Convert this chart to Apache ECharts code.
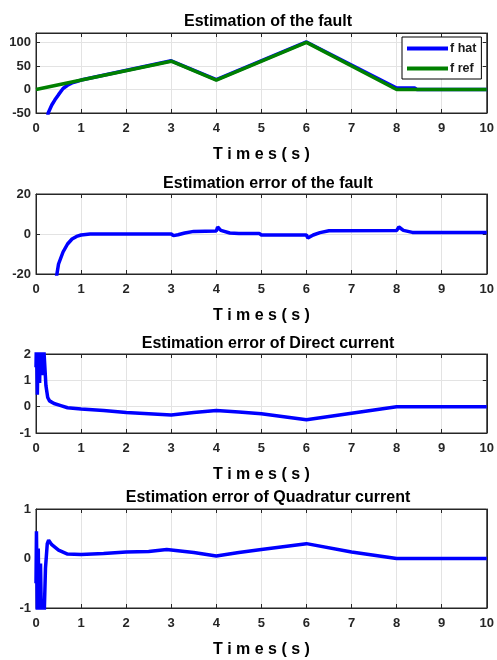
<!DOCTYPE html>
<html>
<head>
<meta charset="utf-8">
<script src="https://cdn.jsdelivr.net/npm/echarts@6/dist/echarts.min.js"></script>
<style>
    html, body { margin: 0; padding: 0; background: #fff; }
    #main { width: 497px; height: 660px; }
</style>
</head>
<body>
<div id="main"></div>
<script>
// time axis ticks (s)
var timeTicks = [0, 1, 2, 3, 4, 5, 6, 7, 8, 9, 10];

// y ticks of each panel
var faultTicks = [-50, 0, 50, 100];
var faultErrTicks = [-20, 0, 20];
var idTicks = [-1, 0, 1, 2];
var iqTicks = [-1, 0, 1];

// [t, value]
var fRef = [[0, 0], [3, 60], [4, 20], [6, 100], [8, 0], [10, 0]];
var fHat = [[0.2, -100], [0.27, -50], [0.35, -33], [0.42, -22], [0.5, -11], [0.6, 2], [0.7, 9],
    [0.8, 14], [0.9, 17], [1, 20], [3, 61], [4, 21], [6, 101], [8, 3], [8.4, 3], [8.45, 0], [10, 0]];

var faultErr = [[0.45, -22], [0.5, -15], [0.6, -9], [0.7, -5], [0.8, -2.5], [0.9, -1.2], [1, -0.5],
    [1.2, 0], [3, 0], [3.05, -0.8], [3.15, -0.4], [3.3, 0.5], [3.5, 1.3], [4, 1.5], [4.03, 3.5],
    [4.1, 1.8], [4.3, 0.5], [4.5, 0.3], [4.95, 0.3], [5, -0.5], [6, -0.5], [6.03, -2], [6.15, -0.5],
    [6.3, 0.7], [6.5, 1.6], [8, 1.7], [8.05, 3.5], [8.15, 1.8], [8.35, 0.8], [10, 0.8]];

var idErr = [[0, 1.5], [0.01, 2.6], [0.03, 0.45], [0.05, 2.6], [0.08, 0.9], [0.1, 2.6], [0.13, 1.2],
    [0.16, 2.6], [0.19, 2.6], [0.22, 0.8], [0.26, 0.35], [0.3, 0.22], [0.4, 0.12], [0.55, 0.04],
    [0.7, -0.04], [1, -0.09], [1.5, -0.15], [2, -0.22], [2.5, -0.27], [3, -0.32], [3.5, -0.22],
    [4, -0.15], [4.5, -0.2], [5, -0.27], [5.5, -0.38], [6, -0.5], [7, -0.25], [8, 0], [10, 0]];

var iqErr = [[0, -0.5], [0.01, 0.55], [0.03, -1.2], [0.05, 0.2], [0.07, -1.2], [0.1, -0.1], [0.12, -1.2],
    [0.18, -1.2], [0.21, -0.2], [0.25, 0.3], [0.28, 0.37], [0.35, 0.28], [0.5, 0.17], [0.7, 0.09],
    [1, 0.08], [1.5, 0.1], [2, 0.13], [2.5, 0.14], [2.9, 0.18], [3.5, 0.12], [4, 0.05], [4.5, 0.12],
    [5, 0.18], [6, 0.3], [7, 0.13], [8, 0], [10, 0]];

var titles = [
    'Estimation of the fault',
    'Estimation error of the fault',
    'Estimation error of Direct current',
    'Estimation error of Quadratur current'
];

var FONT = '"Liberation Sans", Arial, sans-serif';
var AXIS_COLOR = '#262626';
var GRID_COLOR = '#e3e3e3';

var panels = [
    { top: 33, height: 80, ticks: faultTicks, max: 120, titleY: 18 },
    { top: 194, height: 80, ticks: faultErrTicks, max: 20, titleY: 180 },
    { top: 354, height: 79, ticks: idTicks, max: 2, titleY: 340 },
    { top: 509, height: 99, ticks: iqTicks, max: 1, titleY: 494 }
];

var option = {
    animation: false,
    backgroundColor: '#fff',
    textStyle: { fontFamily: FONT },
    title: [],
    grid: [],
    xAxis: [],
    yAxis: [],
    legend: {
        data: ['f hat', 'f ref'],
        orient: 'vertical',
        left: 402,
        top: 37,
        padding: [5, 5, 4, 5],
        itemGap: 7,
        itemWidth: 41,
        itemHeight: 4,
        icon: 'rect',
        borderColor: '#000',
        borderWidth: 1,
        backgroundColor: '#fff',
        textStyle: { fontFamily: FONT, fontSize: 12.5, fontWeight: 'bold', color: '#1a1a1a', padding: [0, 0, 0, -3] }
    },
    series: []
};

panels.forEach(function (p, i) {
    option.title.push({
        text: titles[i],
        left: 263,
        top: p.titleY - 9,
        textAlign: 'center',
        textStyle: { fontFamily: FONT, fontSize: 16, fontWeight: 'bold', color: '#000' }
    });
    option.grid.push({
        left: 36, right: 6, top: p.top, height: p.height,
        show: true, borderColor: AXIS_COLOR, borderWidth: 1, backgroundColor: '#fff'
    });
    // bottom time axis
    option.xAxis.push({
        type: 'value', gridIndex: i,
        min: timeTicks[0], max: timeTicks[timeTicks.length - 1], interval: timeTicks[1] - timeTicks[0],
        axisLine: { onZero: false, lineStyle: { color: AXIS_COLOR } },
        axisTick: { inside: true, length: 4, lineStyle: { color: AXIS_COLOR } },
        axisLabel: { fontSize: 13, fontWeight: 'bold', color: AXIS_COLOR, margin: 9, fontFamily: FONT },
        splitLine: { lineStyle: { color: GRID_COLOR } },
        name: 'T i m e s ( s )', nameLocation: 'middle', nameGap: 34,
        nameTextStyle: { fontFamily: FONT, fontSize: 16, fontWeight: 'bold', color: '#000' }
    });
    // top box edge with ticks
    option.xAxis.push({
        type: 'value', gridIndex: i, position: 'top',
        min: timeTicks[0], max: timeTicks[timeTicks.length - 1], interval: timeTicks[1] - timeTicks[0],
        axisLine: { onZero: false, lineStyle: { color: AXIS_COLOR } },
        axisTick: { inside: true, length: 4, lineStyle: { color: AXIS_COLOR } },
        axisLabel: { show: false },
        splitLine: { show: false }
    });
    option.yAxis.push({
        type: 'value', gridIndex: i,
        min: p.ticks[0], max: p.max, interval: p.ticks[1] - p.ticks[0],
        axisLine: { show: true, onZero: false, lineStyle: { color: AXIS_COLOR } },
        axisTick: { show: true, inside: true, length: 4, lineStyle: { color: AXIS_COLOR } },
        axisLabel: { fontSize: 13, fontWeight: 'bold', color: AXIS_COLOR, margin: 5, fontFamily: FONT,
            showMaxLabel: p.max === p.ticks[p.ticks.length - 1] },
        splitLine: { lineStyle: { color: GRID_COLOR } }
    });
    option.yAxis.push({
        type: 'value', gridIndex: i, position: 'right',
        min: p.ticks[0], max: p.max, interval: p.ticks[1] - p.ticks[0],
        axisLine: { show: true, onZero: false, lineStyle: { color: AXIS_COLOR } },
        axisTick: { show: true, inside: true, length: 4, lineStyle: { color: AXIS_COLOR } },
        axisLabel: { show: false },
        splitLine: { show: false }
    });
});

function line(name, data, panel, color) {
    return {
        name: name, type: 'line', data: data,
        xAxisIndex: panel * 2, yAxisIndex: panel * 2,
        showSymbol: false, symbol: 'none', clip: true,
        lineStyle: { color: color, width: 3.5 },
        itemStyle: { color: color }
    };
}

option.series.push(line('f hat', fHat, 0, '#0000ff'));
option.series.push(line('f ref', fRef, 0, '#008000'));
option.series.push(line('fault error', faultErr, 1, '#0000ff'));
option.series.push(line('id error', idErr, 2, '#0000ff'));
option.series.push(line('iq error', iqErr, 3, '#0000ff'));

var myChart = echarts.init(document.getElementById('main'));
myChart.setOption(option);
</script>
</body>
</html>
